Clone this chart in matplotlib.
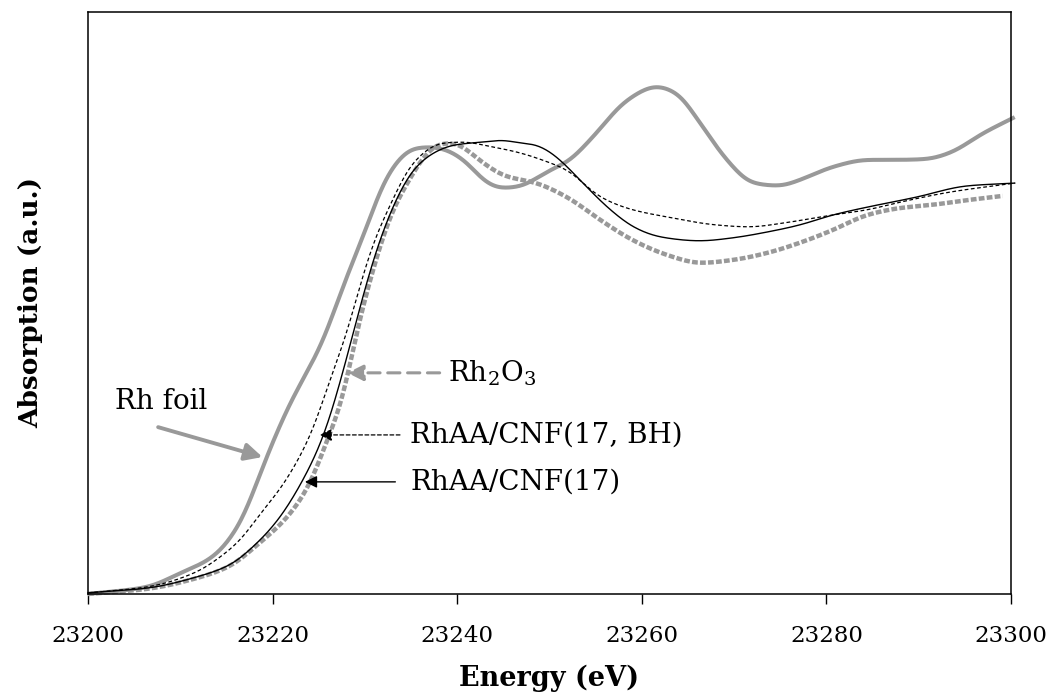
import matplotlib
matplotlib.use("Agg")
import matplotlib.pyplot as plt
import numpy as np

plt.rcParams['font.family'] = ['DejaVu Serif']
plt.rcParams['mathtext.fontset'] = 'dejavuserif'

# Rh K-edge XANES spectra (normalised absorption)
energy_foil = [23200.0, 23206.4, 23210.0, 23213.5, 23216.5, 23217.9, 23219.3, 23221.7,
               23225.5, 23227.6, 23230.2, 23232.0, 23233.8, 23235.2, 23237.4, 23238.9,
               23241.1, 23242.8, 23244.6, 23246.5, 23250.1, 23251.9, 23254.7, 23258.4,
               23261.6, 23263.8, 23266.3, 23269.2, 23272.0, 23275.0, 23277.1, 23280.7,
               23284.4, 23288.0, 23290.9, 23293.4, 23297.0, 23300.4]
abs_foil = [0.000, 0.018, 0.054, 0.095, 0.183, 0.262, 0.350, 0.482,
            0.655, 0.791, 0.946, 1.059, 1.124, 1.149, 1.152, 1.144,
            1.111, 1.067, 1.046, 1.049, 1.093, 1.113, 1.178, 1.273,
            1.309, 1.291, 1.214, 1.119, 1.059, 1.052, 1.067, 1.101,
            1.119, 1.119, 1.121, 1.137, 1.188, 1.229]

energy_oxide = [23200.0, 23206.4, 23211.8, 23215.4, 23218.3, 23221.6, 23224.1, 23225.9,
                23227.6, 23228.9, 23231.6, 23233.0, 23234.6, 23236.7, 23238.1, 23240.0,
                23241.1, 23242.8, 23245.4, 23248.2, 23251.9, 23255.5, 23259.0, 23262.7,
                23266.3, 23269.9, 23273.6, 23277.1, 23280.7, 23284.4, 23288.0, 23291.5,
                23295.2, 23299.1]
abs_oxide = [0.000, 0.013, 0.041, 0.072, 0.126, 0.198, 0.286, 0.397,
             0.500, 0.655, 0.894, 0.990, 1.059, 1.137, 1.162, 1.162,
             1.144, 1.111, 1.075, 1.062, 1.023, 0.964, 0.912, 0.874,
             0.853, 0.861, 0.879, 0.905, 0.938, 0.977, 0.995, 1.003,
             1.015, 1.026]

energy_cnf = [23200.0, 23206.4, 23211.8, 23215.4, 23218.3, 23220.6, 23223.3, 23225.5,
              23227.3, 23228.4, 23230.9, 23233.0, 23235.2, 23237.4, 23239.5, 23242.8,
              23245.0, 23246.8, 23248.2, 23250.1, 23251.5, 23253.3, 23256.6, 23259.3,
              23262.0, 23266.3, 23269.9, 23273.6, 23277.1, 23280.7, 23284.4, 23289.8,
              23295.2, 23300.4]
abs_cnf = [0.003, 0.015, 0.044, 0.075, 0.131, 0.191, 0.294, 0.405,
           0.544, 0.642, 0.861, 0.997, 1.093, 1.137, 1.157, 1.165,
           1.170, 1.162, 1.160, 1.139, 1.111, 1.067, 0.990, 0.943,
           0.920, 0.910, 0.918, 0.933, 0.951, 0.977, 0.997, 1.023,
           1.052, 1.059]

energy_cnf_bh = [23200.0, 23206.4, 23211.8, 23214.3, 23216.5, 23218.6, 23220.8, 23222.2,
                 23224.4, 23226.2, 23227.6, 23230.9, 23233.0, 23234.6, 23236.0, 23238.1,
                 23241.1, 23242.8, 23246.5, 23250.1, 23251.9, 23255.5, 23259.0, 23262.7,
                 23268.1, 23271.7, 23275.3, 23280.7, 23284.4, 23288.0, 23293.4, 23300.4]
abs_cnf_bh = [0.003, 0.018, 0.057, 0.095, 0.139, 0.205, 0.270, 0.322,
              0.425, 0.552, 0.640, 0.905, 1.015, 1.093, 1.131, 1.162,
              1.165, 1.157, 1.139, 1.111, 1.093, 1.023, 0.990, 0.972,
              0.951, 0.946, 0.956, 0.977, 0.990, 1.010, 1.036, 1.059]

x_ticks = [23200, 23220, 23240, 23260, 23280, 23300]

GRAY = '#999999'


def smooth(x, y, n=800, sigma=0.8):
    """Monotone cubic resampling followed by a light Gaussian pass,
    so the traces are drawn as smooth curves."""
    x = np.asarray(x, float)
    y = np.asarray(y, float)
    h = np.diff(x)
    d = np.diff(y) / h
    m = np.zeros_like(y)
    for k in range(1, len(x) - 1):
        if d[k - 1] * d[k] > 0:
            w1 = 2 * h[k] + h[k - 1]
            w2 = h[k] + 2 * h[k - 1]
            m[k] = (w1 + w2) / (w1 / d[k - 1] + w2 / d[k])
    m[0], m[-1] = d[0], d[-1]
    xs = np.linspace(x[0], x[-1], n)
    idx = np.clip(np.searchsorted(x, xs) - 1, 0, len(x) - 2)
    t = (xs - x[idx]) / h[idx]
    h00 = 2 * t**3 - 3 * t**2 + 1
    h10 = t**3 - 2 * t**2 + t
    h01 = -2 * t**3 + 3 * t**2
    h11 = t**3 - t**2
    ys = h00 * y[idx] + h10 * h[idx] * m[idx] + h01 * y[idx + 1] + h11 * h[idx] * m[idx + 1]
    step = xs[1] - xs[0]
    half = int(3 * sigma / step)
    kern = np.exp(-0.5 * (np.arange(-half, half + 1) * step / sigma) ** 2)
    kern /= kern.sum()
    padded = np.concatenate([2 * ys[0] - ys[half:0:-1], ys, 2 * ys[-1] - ys[-2:-half - 2:-1]])
    ys = np.convolve(padded, kern, mode='valid')
    return xs, ys


fig = plt.figure(figsize=(10.5, 6.95), dpi=100)
ax = fig.add_axes([88 / 1050, 1 - 594 / 695, (1011 - 88) / 1050, (594 - 12) / 695])

ax.plot(*smooth(energy_foil, abs_foil), color=GRAY, lw=2.9, solid_capstyle='butt',
        clip_on=False, zorder=2)
ax.plot(*smooth(energy_oxide, abs_oxide), color=GRAY, lw=3.2,
        linestyle=(0, (1.3, 0.5)), dash_capstyle='butt', clip_on=False, zorder=2)
ax.plot(*smooth(energy_cnf_bh, abs_cnf_bh), color='black', lw=0.9,
        linestyle=(0, (3, 2)), clip_on=False, zorder=3)
ax.plot(*smooth(energy_cnf, abs_cnf), color='black', lw=1.0, clip_on=False, zorder=4)

ax.set_xlim(23200, 23300)
ax.set_ylim(0, 1.5)
ax.set_xticks(x_ticks)
ax.set_yticks([])
ax.tick_params(axis='x', direction='out', length=7, width=1.0, pad=15, labelsize=16.5)
for sp in ax.spines.values():
    sp.set_linewidth(1.1)

ax.set_xlabel('Energy (eV)', fontsize=19.5, fontweight='bold', labelpad=13)
ax.set_ylabel('Absorption (a.u.)', fontsize=19, fontweight='bold', labelpad=32)

text_kw = dict(fontsize=20, ha='left', va='center')

# Rh foil
ax.annotate('', xy=(23218.9, 0.353), xytext=(23207.6, 0.430),
            arrowprops=dict(arrowstyle='-|>', color=GRAY, lw=2.8,
                            mutation_scale=26, shrinkA=0, shrinkB=0))
ax.text(23202.9, 0.495, 'Rh foil', **text_kw)

# Rh2O3
ax.annotate('', xy=(23228.1, 0.570), xytext=(23238.1, 0.570),
            arrowprops=dict(arrowstyle='-|>', color=GRAY, lw=2.2, linestyle=(0, (4, 2.5)),
                            mutation_scale=24, shrinkA=0, shrinkB=0))
ax.text(23239.0, 0.570, r'Rh$_2$O$_3$', **text_kw)

# RhAA/CNF(17, BH)
ax.annotate('', xy=(23225.1, 0.410), xytext=(23233.8, 0.410),
            arrowprops=dict(arrowstyle='-|>', color='black', lw=0.9, linestyle=(0, (3, 2)),
                            mutation_scale=18, shrinkA=0, shrinkB=0))
ax.text(23234.9, 0.410, 'RhAA/CNF(17, BH)', **text_kw)

# RhAA/CNF(17)
ax.annotate('', xy=(23223.5, 0.289), xytext=(23233.3, 0.289),
            arrowprops=dict(arrowstyle='-|>', color='black', lw=1.0,
                            mutation_scale=18, shrinkA=0, shrinkB=0))
ax.text(23234.9, 0.289, 'RhAA/CNF(17)', **text_kw)

fig.savefig('out.png', dpi=100)
